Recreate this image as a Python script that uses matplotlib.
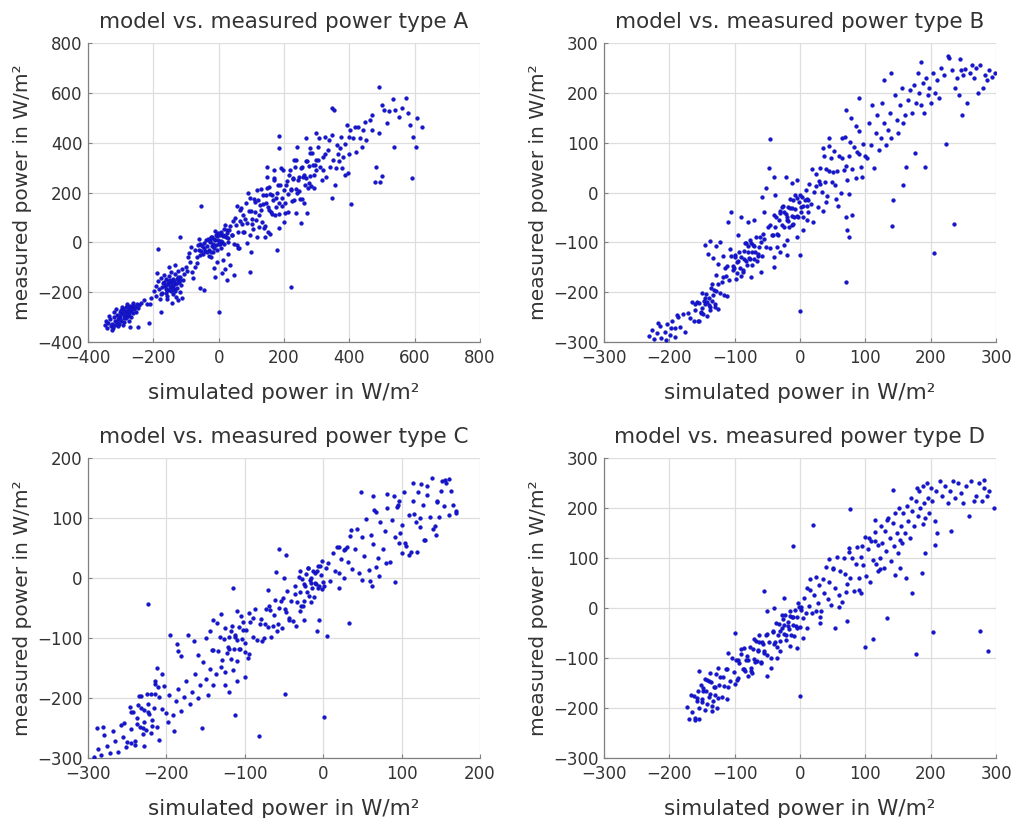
import matplotlib
matplotlib.use("Agg")
import matplotlib.pyplot as plt

# points: (simulated, measured) in W/m²
a_points = [
    # lowest cloud
    (-348, -331), (-341, -342), (-339, -322), (-333, -309), (-331, -336), (-327, -326), (-322, -344), (-321, -301),
    (-317, -317), (-316, -331), (-312, -290), (-309, -308), (-306, -326), (-303, -279), (-301, -297), (-299, -314),
    (-296, -284), (-293, -268), (-291, -303), (-288, -276), (-286, -291), (-283, -261), (-281, -281), (-279, -296),
    (-276, -268), (-274, -287), (-271, -257), (-269, -276), (-266, -263), (-263, -283), (-261, -252), (-258, -268),
    (-255, -259), (-251, -247), (-247, -262), (-243, -251), (-238, -243), (-326, -352), (-307, -337), (-289, -318),
    (-314, -266), (-297, -259), (-280, -249), (-268, -300), (-345, -316), (-336, -295), (-292, -333), (-274, -314),
    (-262, -242), (-252, -278), (-319, -280), (-305, -297), (-285, -302), (-277, -274), (-298, -272), (-310, -318),
    (-290, -290), (-270, -266), (-282, -258), (-302, -306),
    (-270, -338), (-246, -340), (-212, -323), (-229, -233), (-219, -249), (-207, -224), (-176, -278), (-211, -246),
    # second cloud
    (-198, -197), (-193, -174), (-191, -215), (-186, -156), (-183, -189), (-181, -226), (-176, -143), (-173, -178),
    (-172, -203), (-167, -160), (-166, -131), (-162, -187), (-161, -149), (-157, -214), (-156, -167), (-152, -136),
    (-151, -193), (-147, -157), (-147, -121), (-143, -177), (-141, -207), (-139, -147), (-137, -188), (-135, -129),
    (-133, -167), (-131, -219), (-129, -148), (-127, -182), (-124, -117), (-122, -161), (-119, -199), (-117, -139),
    (-114, -171), (-111, -107), (-109, -151), (-105, -127), (-101, -97), (-96, -116), (-124, -233), (-159, -229),
    (-143, -245), (-153, -101), (-133, -89), (-113, -223), (-165, -175), (-158, -192), (-149, -180), (-145, -163),
    (-140, -172), (-154, -155), (-136, -156), (-128, -164), (-160, -172), (-146, -196), (-170, -165), (-141, -185),
    (-150, -150), (-133, -195), (-162, -203), (-178, -206), (-119, -150), (-126, -138),
    (-185, -25), (-118, 23), (-78, -144), (-44, -191), (-57, -185), (-88, -78), (-72, -100), (-95, -60),
    (-82, -121), (-66, -82), (-190, -122),
    # cloud round zero
    (-72, -31), (-66, -60), (-61, -31), (-58, -7), (-53, -35), (-49, -48), (-46, -4), (-41, -33), (-38, 10),
    (-35, -16), (-31, -30), (-28, 1), (-24, 20), (-21, -14), (-19, 22), (-15, -21), (-12, 10), (-9, -10), (-6, 24),
    (-4, 35), (-1, 8), (2, -8), (5, 29), (8, 41), (11, 2), (14, 27), (17, 53), (21, 21), (24, 50), (28, 17),
    (32, 48), (36, 66), (41, 31), (-44, -22), (-33, 14), (-17, -8), (-8, 28), (3, -7), (12, 29), (-27, 6),
    (-56, -51), (-3, 37), (19, 25), (7, 7), (-13, 14), (-37, -38), (26, 38), (-22, 18), (0, -4), (-50, -13),
    (-16, -38), (-5, -30), (6, -22), (-25, -40), (-62, -12), (30, 0), (15, -5), (-10, 45), (20, 70), (-30, -55),
    (-15, -102), (10, -122), (24, -150), (36, -92), (46, -132), (-10, -140), (0, -278), (20, -108), (60, -24),
    (96, -118), (98, -40), (-22, -60), (-4, -78), (14, -70), (30, -45), (-54, 147), (-84, -20), (-92, -42), (-60, 12),
    # main band
    (43, 86), (47, -5), (52, 69), (55, 147), (59, 41), (62, -21), (66, 128), (71, 72), (74, 110), (79, 40),
    (83, 159), (86, 77), (90, 196), (95, 30), (99, 124), (103, 73), (107, 172), (112, 121), (116, 20), (121, 170),
    (124, 108), (129, 213), (133, 81), (137, 155), (142, 65), (146, 189), (151, 143), (155, 222), (159, 121),
    (164, 191), (168, 260), (172, 108), (177, 178), (181, 232), (186, 157), (190, 300), (195, 145), (199, 211),
    (204, 119), (209, 247), (213, 194), (218, 289), (222, 213), (227, 254), (231, 171), (236, 329), (240, 200),
    (245, 261), (249, 172), (254, 303), (258, 263), (263, 232), (268, 327), (272, 220), (277, 306), (281, 265),
    (286, 360), (291, 218), (295, 312), (299, 290),
    (41, 29), (49, 97), (57, -11), (64, 86), (69, 136), (76, 42), (81, 92), (88, -1), (93, 126), (97, 177),
    (101, 94), (105, 55), (110, 160), (114, 88), (118, 210), (123, 62), (127, 151), (131, 129), (135, 188),
    (140, 58), (144, 157), (149, 217), (153, 130), (157, 194), (162, 114), (166, 168), (170, 250), (175, 141),
    (179, 198), (184, 115), (188, 231), (193, 178), (197, 289), (202, 157), (206, 231), (211, 122), (215, 269),
    (220, 211), (225, 164), (229, 258), (234, 302), (238, 214), (243, 249), (247, 205), (252, 297), (256, 175),
    (261, 272), (266, 260), (270, 325), (275, 239), (279, 360), (284, 228), (289, 311), (293, 270), (297, 332),
    (150, 43), (170, 292), (200, 80), (230, 329), (260, 157),
    (178, -30), (185, 56), (186, 427), (186, 377), (147, 304), (147, 264), (237, 119), (252, 79), (270, 119),
    (239, 384), (297, 440), (308, 417), (267, 417), (280, 377), (220, -178), (141, 22), (158, 32),
    # upper sparse part
    (303, 382), (310, 302), (318, 342), (324, 422), (330, 262), (336, 372), (342, 302), (346, 430), (350, 332),
    (356, 232), (362, 392), (369, 326), (364, 356), (379, 300), (375, 422), (382, 342), (388, 272), (392, 471),
    (400, 423), (402, 451), (404, 154), (346, 177), (346, 538), (352, 532), (410, 420), (416, 462), (421, 362),
    (428, 464), (433, 417), (438, 383), (442, 452), (448, 484), (452, 412), (400, 353), (395, 280), (315, 250),
    (327, 355), (339, 410), (358, 300), (372, 380), (386, 395), (305, 330), (320, 290),
    (462, 490), (470, 512), (479, 243), (481, 304), (494, 243), (499, 268), (491, 625), (499, 551), (506, 531),
    (515, 478), (522, 528), (535, 574), (540, 531), (536, 382), (552, 502), (562, 540), (573, 578), (581, 520),
    (591, 257), (596, 424), (603, 381), (606, 498), (621, 462), (585, 470), (470, 450), (490, 440),
]

b_points = [
    # lowest tail and cloud
    (-231, -287), (-227, -276), (-223, -294), (-219, -281), (-214, -268), (-212, -291), (-207, -279), (-203, -264),
    (-199, -285), (-196, -258), (-191, -271), (-187, -250), (-205, -296), (-217, -262),
    (-198, -272), (-192, -289), (-188, -245), (-183, -270), (-179, -244), (-176, -280), (-172, -242), (-169, -251),
    (-166, -219), (-163, -257), (-161, -236), (-158, -219), (-156, -257), (-154, -222), (-152, -240), (-150, -202),
    (-148, -243), (-146, -223), (-144, -203), (-142, -248), (-140, -212), (-138, -229), (-136, -191), (-134, -218),
    (-132, -196), (-130, -229), (-128, -197), (-126, -233), (-123, -201), (-120, -180), (-117, -206), (-114, -168),
    (-111, -207), (-150, -231), (-145, -212), (-140, -225), (-135, -184), (-155, -258), (-160, -223), (-130, -223),
    (-125, -183), (-147, -218), (-137, -235), (-143, -219), (-151, -241), (-133, -206), (-118, -170), (-128, -165),
    # between the clouds
    (-145, -105), (-141, -124), (-137, -97), (-133, -131), (-129, -108), (-125, -143), (-122, -100), (-118, -127),
    (-115, -152), (-110, -60), (-107, -114), (-103, -147), (-99, -126), (-97, -162),
    # middle cloud
    (-112, -147), (-108, -175), (-105, -127), (-102, -155), (-100, -130), (-98, -173), (-96, -140), (-94, -119),
    (-92, -152), (-90, -129), (-88, -159), (-86, -118), (-85, -134), (-83, -102), (-81, -145), (-79, -120),
    (-77, -133), (-75, -102), (-73, -146), (-71, -107), (-69, -120), (-67, -90), (-65, -127), (-63, -109),
    (-61, -90), (-58, -127), (-55, -93), (-52, -110), (-49, -70), (-46, -112), (-90, -167), (-84, -101),
    (-78, -132), (-72, -105), (-66, -138), (-95, -137), (-80, -108), (-70, -133), (-60, -100), (-87, -155),
    (-76, -96), (-64, -123), (-101, -151), (-57, -83), (-82, -137), (-74, -119),
    (-75, -170), (-60, -160), (-95, -85), (-80, -60), (-70, -55), (-40, -130), (-35, -110), (-30, -120),
    (-20, -95), (-25, -105), (-12, -65), (-5, -90), (0, -125), (5, -75), (10, -55), (-105, -40), (-90, -50),
    (-55, -40), (-40, -150), (-20, -125),
    # upper cloud
    (-46, -65), (-43, -85), (-40, -45), (-38, -70), (-36, -49), (-34, -85), (-32, -56), (-30, -38), (-28, -65),
    (-26, -27), (-24, -69), (-22, -43), (-20, -49), (-19, -29), (-17, -69), (-15, -31), (-13, -47), (-11, -15),
    (-9, -49), (-7, -33), (-5, -12), (-3, -50), (-1, -19), (1, -30), (3, -9), (5, -49), (7, -15), (9, 6),
    (11, -27), (13, -15), (-35, -84), (-25, -40), (-15, -14), (-5, -48), (5, -28), (-30, -41), (-20, -56),
    (-10, -63), (0, -6), (10, -13), (-42, -86), (-18, -57), (-8, -5), (2, -39), (-27, -29), (-12, -32),
    (-52, 10), (-46, 107), (-48, 50), (-40, 32), (-22, 32), (-58, -10), (0, -238), (-5, 25), (-12, 20), (-38, -5),
    # band above zero
    (14, 18), (17, -24), (19, 48), (22, 1), (24, 38), (27, -29), (29, 23), (31, 49), (33, 1), (36, 74), (38, 21),
    (40, 48), (42, -8), (45, 43), (47, 70), (49, 22), (52, 84), (54, 16), (57, 44), (59, 74), (62, -1), (64, 69),
    (67, 46), (69, 111), (72, 26), (75, 73), (77, 101), (80, 48), (83, 91), (85, 29), (88, 82), (91, 124),
    (94, 51), (97, 98), (100, 73), (25, 14), (35, -37), (45, 93), (55, -13), (65, 110), (75, -4), (85, 133),
    (95, 32), (30, 17), (50, 41), (70, 54), (90, 78),
    (70, -50), (72, -75), (75, -90), (80, -45), (70, -179), (40, -20), (20, -60), (71, 166), (78, 150), (91, 189),
    (45, 110), (35, 90), (58, -28), (12, -40),
    # upper band
    (102, 70), (105, 140), (108, 95), (110, 175), (113, 50), (116, 120), (118, 155), (121, 85), (124, 110),
    (126, 180), (128, 140), (131, 95), (134, 125), (137, 160), (140, 110), (142, -15), (141, -67), (145, 195),
    (148, 145), (150, 120), (153, 175), (156, 210), (158, 140), (160, 155), (162, 52), (157, 16), (165, 185),
    (168, 205), (171, 160), (174, 215), (176, 80), (178, 180), (180, 240), (182, 200), (185, 175), (188, 220),
    (190, 160), (191, 52), (193, 230), (196, 195), (198, 210), (200, 180), (203, 240), (205, -121), (207, 200),
    (210, 225), (213, 190), (216, 250), (220, 235), (224, 98), (228, 270), (232, 245), (236, -64), (238, 210),
    (240, 230), (243, 195), (246, 245), (248, 155), (250, 235), (253, 248), (256, 180), (260, 240), (263, 255),
    (266, 230), (270, 250), (273, 200), (276, 255), (280, 210), (283, 235), (286, 225), (290, 245), (294, 232),
    (298, 240), (129, 225), (140, 239), (185, 261), (226, 274), (245, 267),
]

c_points = [
    # lowest tail and cloud
    (-292, -298), (-287, -285), (-283, -295), (-280, -262), (-276, -280), (-272, -292), (-268, -255), (-265, -272),
    (-262, -290), (-258, -245), (-255, -265), (-252, -282), (-288, -250), (-281, -248),
    (-254, -242), (-250, -273), (-247, -215), (-245, -252), (-242, -223), (-240, -271), (-238, -233), (-236, -211),
    (-234, -248), (-232, -197), (-230, -250), (-228, -220), (-226, -254), (-224, -210), (-222, -227), (-220, -193),
    (-218, -237), (-216, -217), (-214, -194), (-212, -249), (-209, -199), (-206, -218), (-203, -180), (-200, -225),
    (-197, -195), (-240, -279), (-235, -197), (-230, -260), (-225, -193), (-220, -259), (-215, -177), (-245, -224),
    (-228, -240), (-233, -217), (-219, -246), (-211, -181), (-238, -243), (-224, -223),
    (-223, -43), (-205, -160), (-215, -172), (-212, -150), (-190, -255), (-192, -228), (-198, -240), (-228, -280),
    (-210, -270), (-245, -275),
    # between the clouds
    (-188, -205), (-185, -185), (-182, -222), (-178, -198), (-175, -172), (-170, -210), (-167, -190), (-163, -160),
    (-160, -200), (-157, -178), (-153, -140), (-150, -168), (-147, -195), (-145, -152), (-142, -120), (-140, -178),
    (-187, -110), (-182, -130), (-195, -95), (-185, -122), (-165, -105), (-160, -128), (-172, -95), (-155, -250),
    (-150, -100), (-145, -88), (-140, -70), (-135, -75),
    # middle cloud
    (-140, -120), (-137, -160), (-134, -122), (-132, -98), (-129, -137), (-127, -101), (-125, -157), (-122, -115),
    (-120, -99), (-118, -135), (-116, -80), (-114, -118), (-112, -98), (-110, -138), (-108, -81), (-106, -119),
    (-104, -101), (-102, -73), (-100, -123), (-98, -87), (-96, -133), (-93, -73), (-90, -98), (-87, -52),
    (-84, -103), (-81, -76), (-78, -105), (-125, -84), (-115, -153), (-105, -64), (-95, -127), (-120, -119),
    (-110, -103), (-100, -109), (-130, -148), (-113, -95), (-107, -119), (-118, -89), (-102, -87), (-123, -125),
    (-90, -66),
    (-113, -228), (-115, -16), (-120, -190), (-110, -172), (-125, -178), (-100, -165), (-82, -264), (-49, -193),
    (-130, -60), (-110, -55), (-95, -58),
    # towards the upper cloud
    (-79, -69), (-76, -100), (-73, -51), (-71, -82), (-68, -53), (-66, -99), (-63, -62), (-61, -37), (-58, -77),
    (-56, -50), (-53, -83), (-51, -34), (-48, -57), (-46, -21), (-43, -67), (-41, -39), (-38, -72), (-36, -27),
    (-74, -77), (-64, -80), (-54, -39), (-44, -70), (-69, -46), (-59, -89), (-49, -51),
    (-57, 49), (-47, 38), (-60, 10), (-50, 0), (-70, -20), (-35, -80), (-30, -55), (-25, -70), (-15, -40),
    (-5, -70), (5, -97), (-8, -89), (33, -75), (1, -232),
    # upper cloud
    (-36, -14), (-33, -40), (-31, 2), (-29, -24), (-27, -2), (-25, -39), (-24, -10), (-22, 6), (-21, -24),
    (-19, 16), (-18, -30), (-16, 0), (-15, -9), (-13, 11), (-12, -31), (-10, 9), (-9, -10), (-7, 20), (-5, -14),
    (-3, 5), (-1, 28), (1, -14), (3, 16), (-28, -46), (-20, 17), (-14, -16), (-8, 12), (-2, -19), (-23, -14),
    (-17, -3), (-11, -8), (-6, -16), (-30, 11), (-26, -46), (-4, 20), (0, -7),
    # band above zero
    (6, 25), (9, -5), (12, 42), (15, 12), (17, 51), (20, 9), (23, 31), (26, 0), (28, 48), (31, 27), (34, 70),
    (37, 15), (40, 49), (43, 82), (46, 9), (49, 68), (52, 37), (55, 99), (58, 13), (61, 71), (64, 56), (67, 110),
    (70, 33), (73, 93), (76, 49), (79, 78), (82, 117), (85, 26), (88, 97), (91, 69), (94, 119), (97, 59),
    (100, 88), (103, 143), (106, 53), (109, 105), (112, 43), (115, 128), (118, 94), (121, 144), (124, 85),
    (127, 122), (130, 64), (133, 138), (136, 102), (139, 166), (142, 87), (145, 126), (148, 101), (151, 161),
    (154, 120), (157, 158), (160, 105), (163, 145), (166, 122), (170, 111),
    (20, -16), (35, 80), (50, -3), (65, 114), (80, 25), (95, 122), (110, 39), (125, 156), (140, 82), (155, 164),
    (30, 51), (60, -5), (90, 136), (120, 44), (150, 145),
    (161, 165), (114, 158), (132, 153), (129, 64), (144, 72), (91, -6), (62, -14), (48, 143), (63, 136),
    (82, 140), (97, 128), (116, 106), (170, 109), (145, 128), (71, 3), (67, 19), (101, 42), (104, 58), (98, 75),
    (123, 100), (26, 47), (20, 52),
]

d_points = [
    # lowest cloud
    (-173, -197), (-170, -222), (-167, -174), (-165, -207), (-162, -176), (-160, -220), (-158, -186), (-156, -166),
    (-154, -200), (-152, -154), (-150, -188), (-148, -166), (-146, -203), (-144, -166), (-142, -192), (-140, -146),
    (-138, -172), (-136, -148), (-134, -196), (-132, -158), (-130, -174), (-128, -132), (-126, -180), (-124, -154),
    (-122, -138), (-120, -178), (-118, -138), (-116, -156), (-113, -121), (-110, -158), (-155, -222), (-145, -142),
    (-135, -205), (-125, -119), (-150, -182), (-140, -177), (-130, -157), (-160, -224), (-143, -143), (-133, -185),
    (-148, -160), (-127, -199), (-137, -129), (-157, -179), (-154, -125), (-112, -181), (0, -175),
    # middle cloud
    (-111, -121), (-107, -145), (-104, -100), (-101, -128), (-98, -103), (-96, -143), (-93, -110), (-91, -92),
    (-88, -122), (-86, -80), (-84, -126), (-81, -95), (-79, -104), (-77, -78), (-75, -126), (-72, -81),
    (-70, -102), (-68, -66), (-66, -106), (-64, -86), (-62, -68), (-59, -108), (-57, -72), (-55, -90), (-52, -53),
    (-50, -94), (-47, -67), (-45, -99), (-42, -48), (-40, -71), (-100, -151), (-90, -82), (-80, -135), (-70, -62),
    (-60, -110), (-50, -51), (-95, -104), (-85, -121), (-75, -120), (-65, -83), (-55, -86), (-73, -130),
    (-63, -53), (-82, -104), (-58, -68), (-69, -108),
    (-99, -50), (-55, 35), (-50, -135), (-45, -120), (-110, -90), (-35, -100), (-95, -140),
    # upper cloud
    (-41, -46), (-38, -67), (-36, -29), (-34, -53), (-32, -32), (-30, -66), (-28, -39), (-26, -22), (-25, -51),
    (-23, -14), (-21, -54), (-19, -28), (-18, -35), (-16, -15), (-14, -54), (-12, -18), (-10, -34), (-8, -4),
    (-6, -36), (-4, -17), (-2, 3), (0, -37), (2, -3), (4, -19), (-35, -77), (-27, -13), (-22, -63), (-15, -5),
    (-9, -55), (-3, 10), (-31, -45), (-17, -42), (-11, -17), (-5, -40), (1, 2), (-24, -34),
    (-25, 20), (-40, 0), (-50, -5), (-11, 125), (-5, -80), (5, -60), (10, -40), (-30, -85), (-15, -75),
    # band above zero
    (6, 20), (9, -9), (11, 40), (14, 5), (16, 37), (19, -10), (21, 26), (24, 63), (27, 11), (29, 46), (32, -5),
    (35, 59), (37, 31), (40, 83), (43, 19), (45, 53), (48, 6), (51, 80), (53, 40), (56, 103), (59, 26), (61, 74),
    (64, 13), (67, 100), (69, 68), (72, 48), (75, 113), (77, 61), (80, 100), (83, 34), (85, 89), (88, 122),
    (91, 61), (93, 103), (96, 86), (99, 142), (101, 64), (104, 119), (107, 52), (109, 134), (112, 96), (115, 153),
    (117, 89), (120, 126), (123, 79),
    (15, 59), (30, -17), (45, 98), (60, 2), (75, 121), (90, 36), (105, 140), (120, 74), (25, -6), (50, 78),
    (70, 32), (95, 125), (115, 134),
    (20, 167), (77, 198), (99, -78), (112, -62), (72, -25), (54, -40), (30, -30), (94, 30),
    # upper band
    (122, 100), (124, 165), (126, 130), (128, 80), (130, 155), (132, 115), (134, 180), (133, -20), (138, 140),
    (140, 95), (142, 170), (144, 125), (146, 190), (148, 150), (150, 110), (152, 200), (154, 165), (156, 130),
    (158, 190), (160, 150), (162, 60), (164, 205), (166, 175), (168, 140), (170, 220), (172, 195), (174, 165),
    (171, 30), (178, -91), (178, 215), (180, 185), (182, 235), (184, 200), (186, 71), (188, 245), (190, 210),
    (192, 180), (194, 250), (196, 220), (198, 190), (200, 240), (202, 215), (204, -48), (206, 175), (208, 235),
    (210, 150), (214, 255), (218, 225), (222, 245), (226, 210), (230, 235), (234, 255), (238, 220), (242, 250),
    (246, 230), (250, 210), (254, 245), (258, 185), (262, 255), (266, 215), (270, 225), (274, 250), (276, -45),
    (278, 215), (282, 240), (286, 225), (288, -85), (290, 235), (297, 200), (143, 237), (179, 240), (145, 67),
    (153, 80), (153, 137), (133, 177), (115, 177), (189, 168), (207, 127), (191, 110), (231, 155), (281, 257),
]

titles = ["model vs. measured power type A", "model vs. measured power type B",
          "model vs. measured power type C", "model vs. measured power type D"]
x_label = "simulated power in W/m²"
y_label = "measured power in W/m²"

# (low, high, step) of each panel's axes
x_limits = [(-400, 800, 200), (-300, 300, 100), (-300, 200, 100), (-300, 300, 100)]
y_limits = [(-400, 800, 200), (-300, 300, 100), (-300, 200, 100), (-300, 300, 100)]

# axes boxes in figure pixels: left, top, right, bottom
boxes = [(88, 43, 480, 342), (604, 43, 996, 342), (88, 458, 480, 758), (604, 458, 996, 758)]

W, H = 1015, 818
text_color = "#333333"
fig = plt.figure(figsize=(W / 100, H / 100), dpi=100)

for pts, title, (xlo, xhi, xst), (ylo, yhi, yst), (l, t, r, b) in zip(
        [a_points, b_points, c_points, d_points], titles, x_limits, y_limits, boxes):
    ax = fig.add_axes([l / W, (H - b) / H, (r - l) / W, (b - t) / H])
    xs, ys = zip(*pts)
    ax.plot(xs, ys, "o", ms=2.7, color="#1414d2", mec="#1010a8", mew=0.3, zorder=3)

    ax.set_xlim(xlo, xhi)
    ax.set_ylim(ylo, yhi)
    ax.set_xticks(range(xlo, xhi + 1, xst))
    ax.set_yticks(range(ylo, yhi + 1, yst))
    ax.grid(True, color="#dedede", lw=0.9)
    ax.set_axisbelow(True)

    for s in ["top", "right"]:
        ax.spines[s].set_visible(False)
    for s in ["left", "bottom"]:
        ax.spines[s].set_color("#808080")
        ax.spines[s].set_linewidth(0.9)
    ax.tick_params(direction="in", length=3, color="#808080", labelsize=12,
                   labelcolor=text_color)
    ax.tick_params(axis="x", pad=5)
    ax.tick_params(axis="y", pad=4)

    ax.set_title(title, fontsize=15.5, color=text_color, pad=11)
    ax.set_xlabel(x_label, fontsize=15.5, color=text_color)
    ax.set_ylabel(y_label, fontsize=14.5, color=text_color)
    ax.xaxis.set_label_coords(0.5, -0.17)
    ax.xaxis.label.set_va("center")
    ax.yaxis.set_label_coords(-0.166, 0.5)
    ax.yaxis.label.set_va("center")

fig.savefig("out.png", dpi=100, facecolor="white")
